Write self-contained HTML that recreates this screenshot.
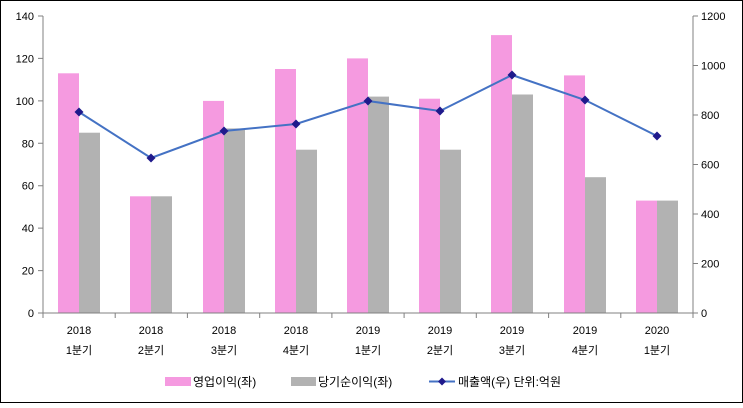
<!DOCTYPE html><html><head><meta charset="utf-8"><style>
body{margin:0;background:#fff}
svg text{font-family:"Liberation Sans","Noto Sans CJK KR",sans-serif;font-size:11px;fill:#000}
</style></head><body>
<svg width="743" height="403" xmlns="http://www.w3.org/2000/svg">
<rect x="0.5" y="0.5" width="742" height="402" fill="#fff" stroke="#000"/>
<!-- bars -->
<g fill="#f59ae0">
<rect x="58" y="73.3" width="21" height="239.7"/>
<rect x="130" y="196.3" width="21" height="116.7"/>
<rect x="203" y="100.9" width="21" height="212.1"/>
<rect x="275" y="69" width="21" height="244"/>
<rect x="347" y="58.4" width="21" height="254.6"/>
<rect x="419" y="98.7" width="21" height="214.3"/>
<rect x="491" y="35.1" width="21" height="277.9"/>
<rect x="564" y="75.4" width="21" height="237.6"/>
<rect x="636" y="200.6" width="21" height="112.4"/>
</g>
<g fill="#b2b2b2">
<rect x="79" y="132.7" width="21" height="180.3"/>
<rect x="151" y="196.3" width="21" height="116.7"/>
<rect x="224" y="128.4" width="21" height="184.6"/>
<rect x="296" y="149.7" width="21" height="163.3"/>
<rect x="368" y="96.6" width="21" height="216.4"/>
<rect x="440" y="149.7" width="21" height="163.3"/>
<rect x="512" y="94.5" width="21" height="218.5"/>
<rect x="585" y="177.2" width="21" height="135.8"/>
<rect x="657" y="200.6" width="21" height="112.4"/>
</g>
<!-- axes -->
<g stroke="#808080" fill="none">
<line x1="43" y1="16" x2="43" y2="313"/>
<line x1="693" y1="16" x2="693" y2="313"/>
<line x1="43" y1="313" x2="693" y2="313"/>
<path d="M38 313H43M38 270.6H43M38 228.1H43M38 185.7H43M38 143.3H43M38 100.9H43M38 58.4H43M38 16H43"/>
<path d="M693 313H698M693 263.5H698M693 214H698M693 164.5H698M693 115H698M693 65.5H698M693 16H698"/>
<path d="M43 313V318M115.2 313V318M187.4 313V318M259.7 313V318M331.9 313V318M404.1 313V318M476.3 313V318M548.6 313V318M620.8 313V318M693 313V318"/>
</g>
<g text-anchor="end">
<text x="34" y="317">0</text><text x="34" y="274.6">20</text><text x="34" y="232.1">40</text><text x="34" y="189.7">60</text><text x="34" y="147.3">80</text><text x="34" y="104.9">100</text><text x="34" y="62.4">120</text><text x="34" y="20">140</text>
</g>
<g>
<text x="701" y="317">0</text><text x="701" y="267.5">200</text><text x="701" y="218">400</text><text x="701" y="168.5">600</text><text x="701" y="119">800</text><text x="701" y="69.5">1000</text><text x="701" y="20">1200</text>
</g>
<g text-anchor="middle">
<text x="79" y="334">2018</text><text x="151" y="334">2018</text><text x="224" y="334">2018</text><text x="296" y="334">2018</text><text x="368" y="334">2019</text><text x="440" y="334">2019</text><text x="512" y="334">2019</text><text x="585" y="334">2019</text><text x="657" y="334">2020</text>
</g>
<g text-anchor="middle" style="font-size:12px">
<text x="79" y="354">1분기</text><text x="151" y="354">2분기</text><text x="224" y="354">3분기</text><text x="296" y="354">4분기</text><text x="368" y="354">1분기</text><text x="440" y="354">2분기</text><text x="512" y="354">3분기</text><text x="585" y="354">4분기</text><text x="657" y="354">1분기</text>
</g>
<!-- line -->
<polyline points="79,112 151,158 224,131 296,124 368,101 440,111 512,75 585,100 657,136" fill="none" stroke="#4472c4" stroke-width="2"/>
<g fill="#1f1a8c">
<path d="M79 107.5L83.5 112L79 116.5L74.5 112Z"/>
<path d="M151 153.5L155.5 158L151 162.5L146.5 158Z"/>
<path d="M224 126.5L228.5 131L224 135.5L219.5 131Z"/>
<path d="M296 119.5L300.5 124L296 128.5L291.5 124Z"/>
<path d="M368 96.5L372.5 101L368 105.5L363.5 101Z"/>
<path d="M440 106.5L444.5 111L440 115.5L435.5 111Z"/>
<path d="M512 70.5L516.5 75L512 79.5L507.5 75Z"/>
<path d="M585 95.5L589.5 100L585 104.5L580.5 100Z"/>
<path d="M657 131.5L661.5 136L657 140.5L652.5 136Z"/>
</g>
<!-- legend -->
<rect x="165" y="377" width="26" height="9" fill="#f59ae0"/><text x="193" y="386" style="font-size:12px">영업이익(좌)</text>
<rect x="291" y="377" width="25" height="9" fill="#b2b2b2"/><text x="318" y="386" style="font-size:12px">당기순이익(좌)</text>
<line x1="429" x2="455" y1="381.5" y2="381.5" stroke="#4472c4" stroke-width="2"/>
<path d="M442 377.5L446 381.5L442 385.5L438 381.5Z" fill="#1f1a8c"/>
<text x="458" y="386" style="font-size:12px">매출액(우)  단위:억원</text>
</svg></body></html>
